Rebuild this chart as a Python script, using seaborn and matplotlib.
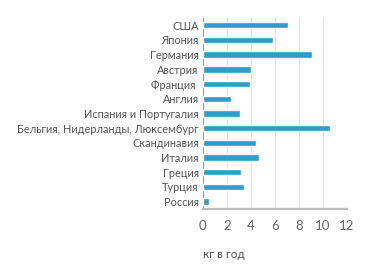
import matplotlib
matplotlib.use("Agg")
import matplotlib.pyplot as plt
import seaborn as sns
import pandas as pd

countries = ["США", "Япония", "Германия", "Австрия", "Франция ", "Англия",
             "Испания и Португалия", "Бельгия, Нидерланды, Люксембург",
             "Скандинавия", "Италия", "Греция", "Турция", "Россия"]
values = [7.1, 5.8, 9.1, 4.0, 3.9, 2.3, 3.1, 10.6, 4.4, 4.7, 3.2, 3.4, 0.5]
xticks = [0, 2, 4, 6, 8, 10, 12]
xlabel = "кг в год"

sns.set_theme(style="white")
plt.rcParams['font.family'] = ['Lato', 'DejaVu Sans']

df = pd.DataFrame({"country": countries, "value": values})

fig = plt.figure(figsize=(3.71, 2.75), dpi=100)
ax = fig.add_axes([0.547, 0.24, 0.388, 0.695])
sns.barplot(data=df, x="value", y="country", color="#2E9DC8", saturation=1,
            width=0.44, ax=ax, zorder=3)
ax.set_xlim(0, 12)
ax.set_ylim(12.5, -0.5)
ax.set_xticks(xticks)
ax.set_xticklabels([str(t) for t in xticks])
ax.grid(axis="x", color="#E6E6E6", linewidth=0.8, zorder=0)
ax.set_ylabel("")
ax.set_xlabel(xlabel, color="#555555", fontsize=8.5, loc="left", labelpad=12)
for s in ["top", "right"]:
    ax.spines[s].set_visible(False)
ax.spines["left"].set_color("#999999")
ax.spines["left"].set_linewidth(0.8)
ax.spines["bottom"].set_color("#BBBBBB")
ax.spines["bottom"].set_linewidth(1.6)
ax.tick_params(axis="y", length=0, pad=3, labelsize=7.9, labelcolor="#555555")
ax.tick_params(axis="x", length=0, pad=8, labelsize=9.5, labelcolor="#666666")
fig.savefig("out.png", dpi=100)
